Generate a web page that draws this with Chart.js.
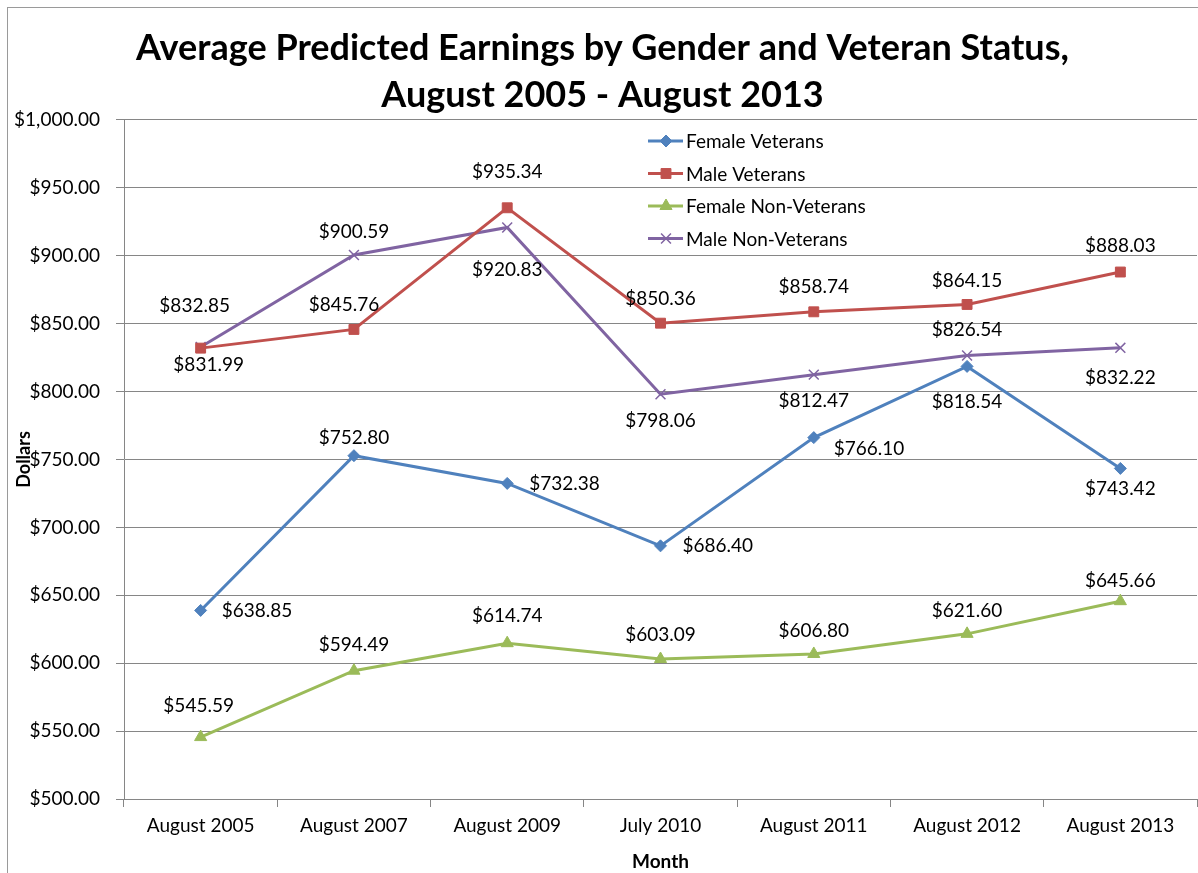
<!DOCTYPE html>
<html>
<head>
<meta charset="utf-8">
<script src="https://cdn.jsdelivr.net/npm/chart.js@4.4.1/dist/chart.umd.min.js"></script>
<style>
  html, body { margin: 0; padding: 0; background: #fff; }
  #wrap { position: relative; width: 1198px; height: 873px; overflow: hidden; }
  #frame { position: absolute; left: 7px; top: 7px; right: -2px; bottom: -2px; border: 1px solid #9a9a9a; pointer-events: none; }
</style>
</head>
<body>
<div id="wrap">
  <canvas id="chart" width="1198" height="873"></canvas>
  <div id="frame"></div>
</div>
<script>
const months = ['August 2005', 'August 2007', 'August 2009', 'July 2010', 'August 2011', 'August 2012', 'August 2013'];

const femaleVeterans = [638.85, 752.80, 732.38, 686.40, 766.10, 818.54, 743.42];
const maleVeterans = [831.99, 845.76, 935.34, 850.36, 858.74, 864.15, 888.03];
const femaleNonVeterans = [545.59, 594.49, 614.74, 603.09, 606.80, 621.60, 645.66];
const maleNonVeterans = [832.85, 900.59, 920.83, 798.06, 812.47, 826.54, 832.22];

// label offsets from each point [dx, dy, align], Excel-style placement
const fvLabelPos = [[21, 0, 'left'], [0, -18], [22, 0, 'left'], [22, 0, 'left'], [20, 11, 'left'], [0, 35], [0, 20]];
const mvLabelPos = [[8, 17], [-10, -25], [0, -36], [0, -24], [0, -25], [0, -24], [0, -26]];
const fnvLabelPos = [[-2, -31], [0, -26], [0, -27], [0, -24], [0, -23], [0, -23], [0, -20]];
const mnvLabelPos = [[-6, -41], [0, -23], [0, 42], [0, 27], [0, 26], [0, -26], [0, 30]];

const FONT = 'Lato, "Liberation Sans", sans-serif';
const money = v => '$' + v.toLocaleString('en-US', { minimumFractionDigits: 2, maximumFractionDigits: 2 });

const dataLabels = {
    id: 'dataLabels',
    afterDatasetsDraw(chart) {
        const ctx = chart.ctx;
        ctx.save();
        ctx.font = '19px ' + FONT;
        ctx.fillStyle = '#000';
        ctx.textBaseline = 'middle';
        chart.data.datasets.forEach((ds, di) => {
            const meta = chart.getDatasetMeta(di);
            meta.data.forEach((pt, i) => {
                const [dx, dy, align] = ds.labelPos[i];
                ctx.textAlign = align || 'center';
                ctx.fillText(money(ds.data[i]), pt.x + dx, pt.y + dy);
            });
        });
        ctx.restore();
    }
};

const lineLegend = {
    id: 'lineLegend',
    afterDraw(chart) {
        const ctx = chart.ctx;
        ctx.save();
        ctx.font = '19px ' + FONT;
        ctx.textBaseline = 'middle';
        chart.data.datasets.forEach((ds, i) => {
            const y = 141 + i * 32.5;
            ctx.strokeStyle = ds.borderColor;
            ctx.lineWidth = 3;
            ctx.beginPath();
            ctx.moveTo(648, y);
            ctx.lineTo(683, y);
            ctx.stroke();
            ctx.fillStyle = ds.pointBackgroundColor;
            ctx.strokeStyle = ds.pointBorderColor;
            ctx.lineWidth = ds.pointBorderWidth || 1;
            Chart.helpers.drawPoint(ctx, {
                pointStyle: ds.pointStyle,
                radius: ds.pointRadius,
                borderWidth: ds.pointBorderWidth || 1
            }, 666, y);
            ctx.fillStyle = '#000';
            ctx.textAlign = 'left';
            ctx.fillText(ds.label, 686, y + 1);
        });
        ctx.restore();
    }
};

function series(label, data, color, style, radius, labelPos) {
    return {
        label: label,
        data: data,
        labelPos: labelPos,
        borderColor: color,
        backgroundColor: color,
        borderWidth: 3,
        pointStyle: style,
        pointRadius: radius,
        pointHoverRadius: radius,
        pointBackgroundColor: color,
        pointBorderColor: color,
        pointBorderWidth: style === 'crossRot' ? 1.5 : 1,
        tension: 0
    };
}

new Chart(document.getElementById('chart').getContext('2d'), {
    type: 'line',
    data: {
        labels: months,
        datasets: [
            series('Female Veterans', femaleVeterans, '#4F81BD', 'rectRot', 6, fvLabelPos),
            series('Male Veterans', maleVeterans, '#C0504D', 'rect', 7, mvLabelPos),
            series('Female Non-Veterans', femaleNonVeterans, '#9BBB59', 'triangle', 7, fnvLabelPos),
            series('Male Non-Veterans', maleNonVeterans, '#8064A2', 'crossRot', 7, mnvLabelPos)
        ]
    },
    options: {
        responsive: false,
        animation: false,
        events: [],
        layout: { autoPadding: false, padding: { left: 8, right: 1, top: 0, bottom: 0 } },
        plugins: {
            legend: { display: false },
            tooltip: { enabled: false },
            title: {
                display: true,
                text: ['Average Predicted Earnings by Gender and Veteran Status,', 'August 2005 - August 2013'],
                color: '#000',
                font: { family: FONT, size: 36, weight: 'bold', lineHeight: 1.305 },
                padding: { top: 25, bottom: 1 }
            }
        },
        scales: {
            x: {
                offset: true,
                grid: { display: true, drawOnChartArea: false, drawTicks: true, tickLength: 8, color: '#868686', offset: true },
                border: { color: '#868686', width: 1 },
                ticks: { color: '#000', font: { family: FONT, size: 19 }, padding: 7, maxRotation: 0, autoSkip: false },
                title: { display: true, text: 'Month', color: '#000', font: { family: FONT, size: 19, weight: 'bold' }, padding: { top: 3, bottom: 0 } },
                afterFit: s => { s.height = 74; }
            },
            y: {
                min: 500,
                max: 1000,
                grid: { color: '#868686', tickLength: 8 },
                border: { color: '#868686', width: 1 },
                ticks: { stepSize: 50, color: '#000', font: { family: FONT, size: 19 }, padding: 16, callback: v => money(v) },
                title: { display: true, text: 'Dollars', color: '#000', font: { family: FONT, size: 18, weight: 'bold' }, padding: { top: 5, bottom: 0 } },
                afterFit: s => { s.width = 116; }
            }
        }
    },
    plugins: [dataLabels, lineLegend]
});
</script>
</body>
</html>
